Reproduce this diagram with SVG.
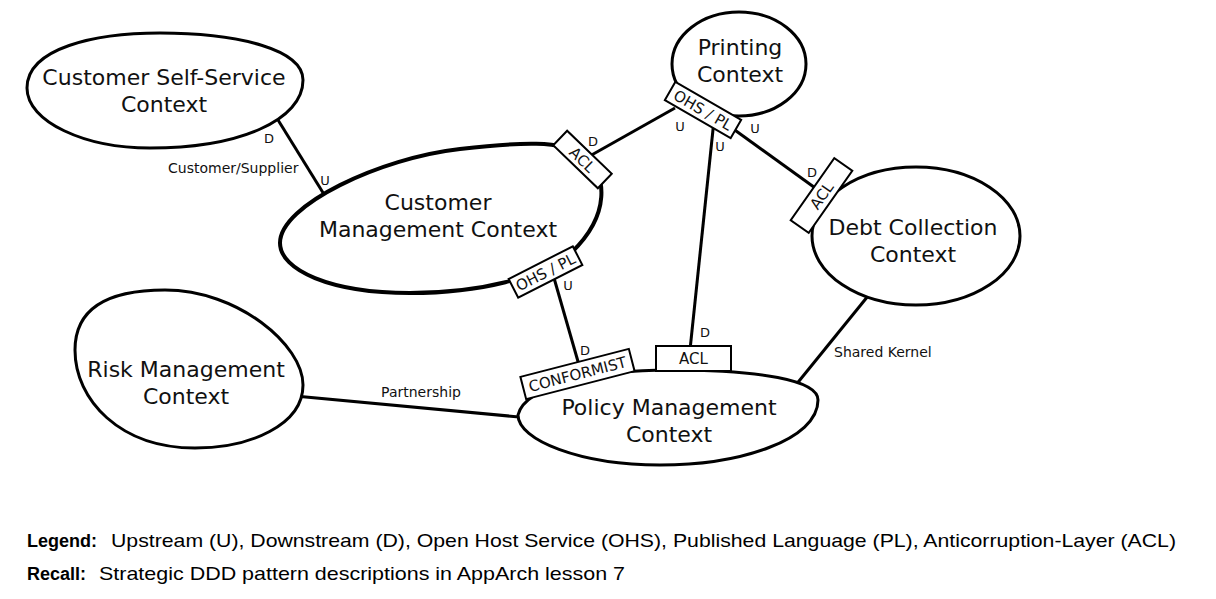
<svg xmlns="http://www.w3.org/2000/svg" width="1216" height="599" viewBox="0 0 1216 599">
<style>
.blob{fill:#fff;stroke:#000;stroke-width:3}
.thick{stroke-width:4}
.box{fill:#fff;stroke:#000;stroke-width:2}
.conn{stroke:#000;stroke-width:3;fill:none}
.t{font-family:"DejaVu Sans",sans-serif;font-size:22px;fill:#111;text-anchor:middle}
.s{font-family:"DejaVu Sans",sans-serif;font-size:14px;fill:#111}
.ud{font-family:"DejaVu Sans",sans-serif;font-size:13px;fill:#111;text-anchor:middle}
.bl{font-family:"DejaVu Sans",sans-serif;font-size:15px;fill:#111;text-anchor:middle}
.lg{font-family:"Liberation Sans",Arial,sans-serif;font-size:19px;fill:#000}
.lgb{font-family:"Liberation Sans",Arial,sans-serif;font-size:18px;font-weight:bold;fill:#000}
</style>
<rect width="1216" height="599" fill="#fff"/>
<g id="connectors">
<line class="conn" x1="270" y1="107" x2="330" y2="204"/>
<line class="conn" x1="675" y1="108" x2="588" y2="157"/>
<line class="conn" x1="714" y1="120" x2="690" y2="350"/>
<line class="conn" x1="732" y1="128" x2="818" y2="190"/>
<line class="conn" x1="554" y1="278" x2="579" y2="365"/>
<line class="conn" x1="295" y1="396" x2="530" y2="418"/>
<line class="conn" x1="868" y1="296" x2="795" y2="386"/>
<text class="s" x="168" y="173">Customer/Supplier</text>
<text class="s" x="421" y="397" text-anchor="middle">Partnership</text>
<text class="s" x="834" y="357">Shared Kernel</text>
<text class="ud" x="269" y="143">D</text>
<text class="ud" x="325" y="185">U</text>
<text class="ud" x="680" y="131">U</text>
<text class="ud" x="720" y="151">U</text>
<text class="ud" x="755" y="133">U</text>
<text class="ud" x="593" y="146">D</text>
<text class="ud" x="812" y="177">D</text>
<text class="ud" x="568" y="290">U</text>
<text class="ud" x="585" y="355">D</text>
<text class="ud" x="705" y="337">D</text>
</g>
<g id="customer-self-service">
<path class="blob" d="M27,88 C27,48 95,33 160,33 C240,33 303,50 303,80 C303,120 240,148 150,148 C85,148 27,122 27,88 Z"/>
<text class="t" x="164" y="85">Customer Self-Service</text>
<text class="t" x="164" y="112">Context</text>
</g>
<g id="printing">
<ellipse class="blob" cx="739" cy="64" rx="67" ry="52"/>
<text class="t" x="740" y="55">Printing</text>
<text class="t" x="740" y="82">Context</text>
<g transform="translate(703,110) rotate(30)">
<rect class="box" x="-38" y="-10.5" width="76" height="21"/>
<text class="bl" x="0" y="5.5">OHS / PL</text>
</g>
</g>
<g id="customer-management">
<path class="blob thick" d="M280,243 C280,205 380,158 460,149 C520,142 562,140 584,155 C608,175 610,215 572,252 C540,278 480,293 410,293 C330,293 280,270 280,243 Z"/>
<text class="t" x="438" y="210">Customer</text>
<text class="t" x="438" y="237">Management Context</text>
<g transform="translate(582.5,159.5) rotate(44)">
<rect class="box" x="-31" y="-10" width="62" height="20"/>
<text class="bl" x="0" y="5.5">ACL</text>
</g>
<g transform="translate(545.5,272) rotate(-27)">
<rect class="box" x="-36" y="-10.5" width="72" height="21"/>
<text class="bl" x="0" y="5.5">OHS / PL</text>
</g>
</g>
<g id="debt-collection">
<ellipse class="blob" cx="916" cy="236" rx="104" ry="69"/>
<text class="t" x="913" y="235">Debt Collection</text>
<text class="t" x="913" y="262">Context</text>
<g transform="translate(821.5,195.5) rotate(-55)">
<rect class="box" x="-38" y="-11" width="76" height="22"/>
<text class="bl" x="0" y="5.5">ACL</text>
</g>
</g>
<g id="risk-management">
<path class="blob" d="M75,350 C75,308 108,290 165,290 C238,290 303,345 303,385 C303,425 250,448 195,448 C120,448 75,400 75,350 Z"/>
<text class="t" x="186" y="377">Risk Management</text>
<text class="t" x="186" y="404">Context</text>
</g>
<g id="policy-management">
<path class="blob" d="M518,415 C525,385 600,370 670,370 C760,370 818,380 818,400 C818,440 740,465 660,465 C580,465 518,440 518,415 Z"/>
<text class="t" x="669" y="415">Policy Management</text>
<text class="t" x="669" y="442">Context</text>
<g transform="translate(577.5,374) rotate(-14.5)">
<rect class="box" x="-56" y="-11.5" width="112" height="23"/>
<text class="bl" x="0" y="5.5">CONFORMIST</text>
</g>
<rect class="box" x="656" y="346" width="75" height="25"/>
<text class="bl" x="693.5" y="364">ACL</text>
</g>
<g id="legend">
<text class="lgb" x="27" y="547">Legend:</text>
<text class="lg" x="111" y="547" textLength="1065" lengthAdjust="spacingAndGlyphs">Upstream (U), Downstream (D), Open Host Service (OHS), Published Language (PL), Anticorruption-Layer (ACL)</text>
<text class="lgb" x="27" y="580">Recall:</text>
<text class="lg" x="99" y="580" textLength="526" lengthAdjust="spacingAndGlyphs">Strategic DDD pattern descriptions in AppArch lesson 7</text>
</g>
</svg>
